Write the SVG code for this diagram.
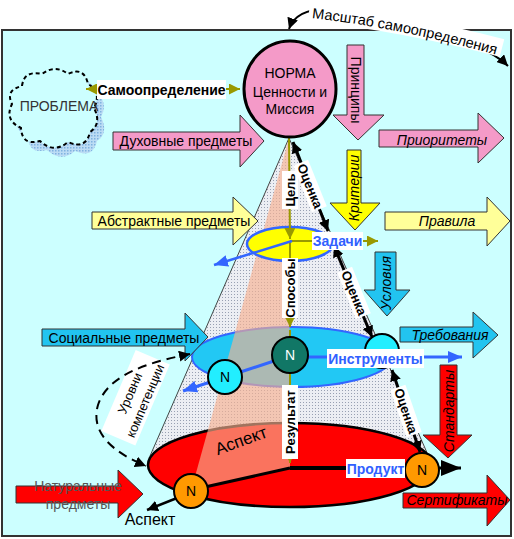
<svg xmlns="http://www.w3.org/2000/svg" width="514" height="539" viewBox="0 0 514 539">
<defs>
<style>
text{font-family:"Liberation Sans",Arial,sans-serif;font-size:14px;fill:#000}
.c{text-anchor:middle}
.b{font-weight:bold}
.i{font-style:italic}
.s13{font-size:13px}
.blue{fill:#3060ff;font-weight:bold}
.wbg{fill:#fff}
.arr{stroke:#333;stroke-width:1}
.ol{stroke:#999900;stroke-width:2;fill:none}
.bk{stroke:#000;stroke-width:3;fill:none}
.bl{stroke:#3366ff;stroke-width:3;fill:none}
.node{stroke:#000;stroke-width:2}
.pink{fill:#f49ac8}
.cyanA{fill:#22c4f0}
.red{fill:#ff0000}
</style>
<pattern id="dots" width="3" height="3" patternUnits="userSpaceOnUse"><rect width="3" height="3" fill="#eceef3"/><rect width="1" height="1" fill="#98a0b2"/></pattern>
<pattern id="sh" width="3" height="3" patternUnits="userSpaceOnUse"><rect width="3" height="3" fill="#bcdcf4"/><rect width="1.5" height="1.5" fill="#7fb2e0"/></pattern>
<marker id="mo" viewBox="0 0 10 10" refX="10" refY="5" markerWidth="11" markerHeight="11" markerUnits="userSpaceOnUse" orient="auto-start-reverse"><path d="M0,0L10,5L0,10z" fill="#999900"/></marker>
<marker id="mk" viewBox="0 0 10 10" refX="10" refY="5" markerWidth="11" markerHeight="11" markerUnits="userSpaceOnUse" orient="auto-start-reverse"><path d="M0,0L10,5L0,10z" fill="#000"/></marker>
<marker id="mkL" viewBox="0 0 20 16" refX="20" refY="8" markerWidth="20" markerHeight="16" markerUnits="userSpaceOnUse" orient="auto"><path d="M0,0L20,8L0,16z" fill="#000"/></marker>
<marker id="mb" viewBox="0 0 14 12" refX="14" refY="6" markerWidth="14" markerHeight="12" markerUnits="userSpaceOnUse" orient="auto"><path d="M0,0L14,6L0,12z" fill="#3366ff"/></marker>
</defs>

<rect width="514" height="539" fill="#fff"/>
<rect id="frame" x="2" y="30" width="509" height="506" fill="#ccffff" stroke="#333" stroke-width="2"/>

<g id="scale">
<path d="M289,29 C300,-2 350,8 410,26 C460,40 490,48 508,66" fill="none" stroke="#000" stroke-width="2" marker-start="url(#mk)" marker-end="url(#mk)"/>
<path d="M309,12 Q402,22 502,48" fill="none" stroke="#fff" stroke-width="18"/>
<path id="scalePath" d="M312,18 Q402,28 508,58" fill="none"/>
<text style="font-size:14.5px"><textPath href="#scalePath">Масштаб самоопределения</textPath></text>
</g>

<g id="problem">
<path transform="translate(7,9)" d="M22,86 Q24,70 42,74 Q55,64 68,74 Q84,66 88,84 Q102,92 94,108 Q102,124 90,132 Q86,150 68,142 Q54,154 40,141 Q22,146 21,128 Q4,120 12,104 Q5,90 22,86 Z" fill="url(#sh)"/>
<path d="M22,86 Q24,70 42,74 Q55,64 68,74 Q84,66 88,84 Q102,92 94,108 Q102,124 90,132 Q86,150 68,142 Q54,154 40,141 Q22,146 21,128 Q4,120 12,104 Q5,90 22,86 Z" fill="#ccffff" stroke="#000" stroke-width="2" stroke-dasharray="4 3"/>
<text class="c" x="59" y="111" style="fill:#333">ПРОБЛЕМА</text>
</g>

<g id="cone">
<polygon points="289,138 150,458 428,455" fill="url(#dots)"/>
<path d="M289,138 L150,456 M289,138 L428,455" stroke="#444" stroke-width="1" fill="none"/>
</g>

<g id="level-natural">
<ellipse cx="290" cy="465" rx="142" ry="42" fill="#ff0000" stroke="#000" stroke-width="2.5"/>
</g>
<g id="level-social">
<ellipse cx="292" cy="357" rx="100" ry="30" fill="#22c8f4" stroke="#3366ff" stroke-width="2"/>
</g>
<g id="aspect-wedge">
<polygon points="289,138 191,491 290,468" fill="#f7b090" fill-opacity="0.65"/>
<text class="c" transform="translate(243,446) rotate(-20)" style="font-size:17px">Аспект</text>
</g>
<g id="level-abstract">
<ellipse cx="290" cy="244" rx="43" ry="17" fill="#ffff00" stroke="#3366ff" stroke-width="2.5"/>
</g>

<g id="arrows-left">
<g id="arrow-duh"><polygon class="arr pink" points="113,132 240,132 240,115 264,141 240,167 240,150 113,150"/><text class="c" x="186" y="146">Духовные предметы</text></g>
<g id="arrow-abstr"><polygon class="arr" fill="#ffff99" points="92,212 233,212 233,197 258,221 233,245 233,229 92,229"/><text class="c" x="174" y="226">Абстрактные предметы</text></g>
<g id="arrow-soc"><polygon class="arr cyanA" points="42,329 185,329 185,313 208,337 185,361 185,346 42,346"/><text class="c" x="124" y="343">Социальные предметы</text></g>
<g id="arrow-nat"><polygon class="arr red" points="16,486 118,486 118,470 143,494 118,518 118,503 16,503"/><text class="c" x="78" y="491" style="fill:#555">Натуральные</text><text class="c" x="78" y="509" style="fill:#555">предметы</text></g>
</g>

<g id="arrows-right">
<g id="arrow-princ"><polygon class="arr pink" points="347,45 364,45 364,115 384,115 358,140 333,115 347,115"/><text class="c" transform="translate(356,90) rotate(90)" y="5">Принципы</text></g>
<g id="arrow-prior"><polygon class="arr pink" points="379,130 478,130 478,113 504,138 478,163 478,147 379,147"/><text class="c i" x="442" y="145">Приоритеты</text></g>
<g id="arrow-krit"><polygon class="arr" fill="#ffff00" points="347,150 361,150 361,203 380,203 355,230 330,203 347,203"/><text class="c i" transform="translate(354,188) rotate(-90)" y="5">Критерии</text></g>
<g id="arrow-prav"><polygon class="arr" fill="#ffff99" points="385,212 487,212 487,197 510,221 487,246 487,230 385,230"/><text class="c i" x="447" y="226">Правила</text></g>
<g id="arrow-usl"><polygon class="arr cyanA" points="375,252 396,252 396,290 410,290 387,316 364,290 375,290"/><text class="c i" transform="translate(386,283) rotate(-90)" y="5">Условия</text></g>
<g id="arrow-treb"><polygon class="arr cyanA" points="400,327 473,327 473,312 498,335 473,358 473,342 400,342"/><text class="c i" x="450" y="340">Требования</text></g>
<g id="arrow-stand"><polygon class="arr red" points="440,365 457,365 457,435 472,435 448,458 423,435 440,435"/><text class="c i" transform="translate(449,411) rotate(-90)" y="5">Стандарты</text></g>
<g id="arrow-sert"><polygon class="arr red" points="403,493 487,493 487,475 510,500 487,526 487,508 403,508"/><text class="c i" x="457" y="505">Сертификаты</text></g>
</g>

<g id="competence">
<g transform="translate(136,398) rotate(-67)">
<rect x="-44" y="-19" width="88" height="37" class="wbg"/>
<text class="c s13" x="2" y="-3">Уровни</text>
<text class="c s13" x="1" y="14">компетенции</text>
</g>
</g>

<g id="connectors">
<path class="ol" d="M86,89 L240,89" marker-start="url(#mo)" marker-end="url(#mo)"/>
<path class="ol" d="M289,138 L290,239" marker-end="url(#mo)"/>
<path class="ol" d="M290,241 L290,327" marker-end="url(#mo)"/>
<path class="ol" d="M290,330 L290,463" marker-end="url(#mo)"/>
<path class="ol" d="M290,241 L378,241" marker-end="url(#mo)"/>
<path class="bl" style="stroke-width:2.5" d="M292,241 L214,265" marker-end="url(#mb)"/>
<path class="bl" d="M289,356 L183,391" marker-end="url(#mb)"/>
<path class="bl" d="M300,357 L462,357" marker-end="url(#mb)"/>
<path class="bk" d="M293,142 L328,231" marker-start="url(#mk)" marker-end="url(#mk)"/>
<path class="bk" d="M334,246 L372,337" marker-start="url(#mk)" marker-end="url(#mk)"/>
<path class="bk" d="M392,370 L420,452" marker-start="url(#mk)" marker-end="url(#mk)"/>
<path class="bk" d="M205,487 L290,468"/>
<path class="bk" style="stroke-width:4" d="M290,468 L347,468"/>
<path class="bk" d="M436,468 L461,468" marker-end="url(#mkL)"/>
<path class="bk" style="stroke-width:2.5" d="M177,498 L147,510" marker-end="url(#mk)"/>
<path d="M190,354 C150,362 108,374 98,405 C90,432 112,452 146,466" fill="none" stroke="#000" stroke-width="2" stroke-dasharray="9 6" marker-start="url(#mk)" marker-end="url(#mk)"/>
</g>

<g id="node-teal"><circle class="node" cx="290" cy="355" r="18" fill="#117766"/><text class="c" x="290" y="360" style="fill:#fff">N</text></g>
<g id="node-cyan-left"><circle class="node" cx="225" cy="377" r="17" fill="#22eeff"/><text class="c" x="225" y="382">N</text></g>
<g id="node-cyan-right"><circle class="node" cx="382" cy="351" r="17" fill="#22eeff"/></g>
<g id="node-orange-left"><circle class="node" cx="191" cy="491" r="17" fill="#ff9900"/><text class="c" x="191" y="496">N</text></g>
<g id="node-orange-right"><circle class="node" cx="422" cy="470" r="17" fill="#ff9900"/><text class="c" x="422" y="475">N</text></g>

<g id="labels">
<rect class="wbg" x="97" y="80" width="129" height="19"/>
<text class="c b" x="161.5" y="94.5">Самоопределение</text>
<g transform="translate(290,190) rotate(-90)"><rect class="wbg" x="-19" y="-8" width="38" height="16"/><text class="c b s13" y="4.5">Цель</text></g>
<g transform="translate(290,288) rotate(-90)"><rect class="wbg" x="-30" y="-8" width="60" height="16"/><text class="c b s13" y="4.5">Способы</text></g>
<g transform="translate(290,422) rotate(-90)"><rect class="wbg" x="-37" y="-8" width="74" height="16"/><text class="c b s13" y="4.5">Результат</text></g>
<g transform="translate(310,186) rotate(68)"><rect class="wbg" x="-25" y="-8" width="50" height="16"/><text class="c b s13" y="4.5">Оценка</text></g>
<g transform="translate(354,293) rotate(68)"><rect class="wbg" x="-25" y="-8" width="50" height="16"/><text class="c b s13" y="4.5">Оценка</text></g>
<g transform="translate(406,411) rotate(71)"><rect class="wbg" x="-25" y="-8" width="50" height="16"/><text class="c b s13" y="4.5">Оценка</text></g>
<rect class="wbg" x="312" y="232" width="51" height="18"/>
<text class="c blue" x="337.5" y="246">Задачи</text>
<rect class="wbg" x="327" y="349" width="97" height="19"/>
<text class="c blue" x="375.5" y="363.5">Инструменты</text>
<rect class="wbg" x="346" y="459" width="59" height="19"/>
<text class="c blue" x="375.5" y="473.5">Продукт</text>
<text class="c" x="150" y="525" style="font-size:16px">Аспект</text>
</g>

<g id="norma">
<ellipse cx="290" cy="89" rx="46" ry="48" class="pink" stroke="#000" stroke-width="3"/>
<text class="c" x="290" y="78">НОРМА</text>
<text class="c" x="290" y="97">Ценности и</text>
<text class="c" x="290" y="114">Миссия</text>
</g>
</svg>
